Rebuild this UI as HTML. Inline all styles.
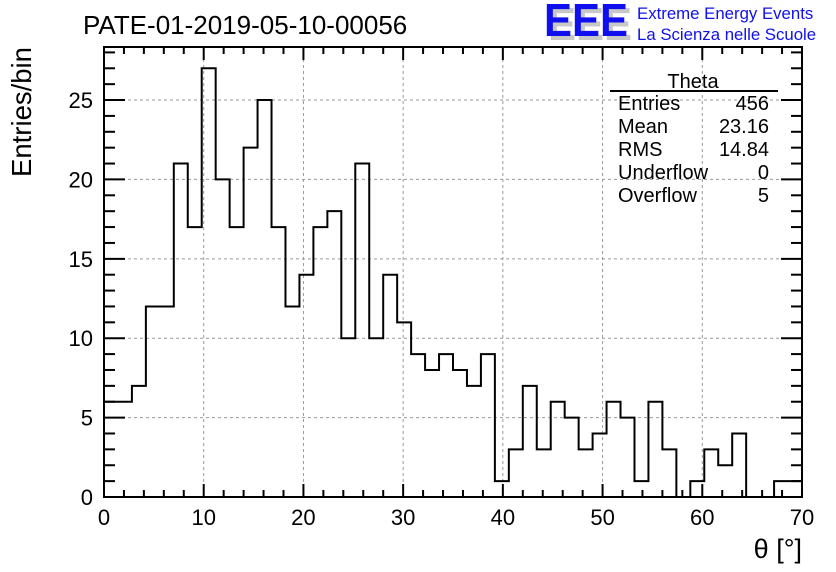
<!DOCTYPE html>
<html><head><meta charset="utf-8"><style>
html,body{margin:0;padding:0;background:#fff;}
svg{display:block;font-family:"Liberation Sans",sans-serif;}
</style></head><body>
<svg id="chart" width="836" height="572" viewBox="0 0 836 572">
<rect x="0" y="0" width="836" height="572" fill="#fff"/>
<text x="83" y="34" font-size="26" fill="#000">PATE-01-2019-05-10-00056</text>
<g>
<text x="548" y="40" font-size="46" font-weight="bold" fill="#c8c8c8" textLength="84" lengthAdjust="spacingAndGlyphs">EEE</text>
<text x="544" y="36" font-size="46" font-weight="bold" fill="#1010ee" textLength="84" lengthAdjust="spacingAndGlyphs">EEE</text>
<text x="637" y="19" font-size="16.8" fill="#1010ee">Extreme Energy Events</text>
<text x="637" y="40" font-size="16.8" fill="#1010ee">La Scienza nelle Scuole</text>
</g>
<g id="grid"></g>
<g id="ticks"></g>
<path id="hist" fill="none" stroke="#000" stroke-width="2"/>
<rect x="104" y="47" width="698" height="450" fill="none" stroke="#000" stroke-width="2"/>
<g id="xlabels" font-size="22" text-anchor="middle"></g>
<g id="ylabels" font-size="22" text-anchor="end"></g>
<text x="802" y="558" font-size="27" text-anchor="end">θ [°]</text>
<text transform="translate(31,112) rotate(-90)" font-size="27.5" text-anchor="middle">Entries/bin</text>
<g font-size="20">
<text x="693" y="88" text-anchor="middle">Theta</text>
<line x1="610" y1="91" x2="778" y2="91" stroke="#000" stroke-width="2"/>
<text x="618" y="110">Entries</text><text x="769" y="110" text-anchor="end">456</text>
<text x="618" y="133">Mean</text><text x="769" y="133" text-anchor="end">23.16</text>
<text x="618" y="156">RMS</text><text x="769" y="156" text-anchor="end">14.84</text>
<text x="618" y="179">Underflow</text><text x="769" y="179" text-anchor="end">0</text>
<text x="618" y="202">Overflow</text><text x="769" y="202" text-anchor="end">5</text>
</g>
</svg>
<script>
const binCounts = [6,6,7,12,12,21,17,27,20,17,22,25,17,12,14,17,18,10,21,10,14,11,9,8,9,8,7,9,1,3,7,3,6,5,3,4,6,5,1,6,3,0,1,3,2,4,0,0,1,1];
const xRange = [0,70];
const yRange = [0,28.34];
const xTickLabels = [0,10,20,30,40,50,60,70];
const yTickLabels = [0,5,10,15,20,25];

const L=104,R=802,T=47,B=497;
const NS='http://www.w3.org/2000/svg';
function sx(v){return L+(v-xRange[0])/(xRange[1]-xRange[0])*(R-L);}
function sy(v){return B-(v-yRange[0])/(yRange[1]-yRange[0])*(B-T);}
function mk(tag,attrs,parent){const e=document.createElementNS(NS,tag);for(const k in attrs)e.setAttribute(k,attrs[k]);parent.appendChild(e);return e;}

const grid=document.getElementById('grid'),ticks=document.getElementById('ticks');
const xl=document.getElementById('xlabels'),yl=document.getElementById('ylabels');
xTickLabels.forEach(v=>{
  const x=sx(v);
  if(v>xRange[0]&&v<xRange[1]){const g=mk('line',{x1:x,y1:T,x2:x,y2:B,stroke:'#999','stroke-width':1,'stroke-dasharray':'3,3'},grid);
  
  }
  const t=mk('text',{x:x,y:525},xl);t.textContent=v;
  
  
});
for(let v=xRange[0];v<=xRange[1];v+=2){
  const x=sx(v),len=(v%10===0)?13:7;
  mk('line',{x1:x,y1:B,x2:x,y2:B-len,stroke:'#000','stroke-width':2},ticks);
  mk('line',{x1:x,y1:T,x2:x,y2:T+len,stroke:'#000','stroke-width':2},ticks);
}
yTickLabels.forEach(v=>{
  const y=sy(v);
  if(v>yRange[0]){const g=mk('line',{x1:L,y1:y,x2:R,y2:y,stroke:'#999','stroke-width':1,'stroke-dasharray':'3,3'},grid);
  
  }
  const t=mk('text',{x:93,y:y+8},yl);t.textContent=v;
  
  
});
for(let v=0;v<=yRange[1];v+=1){
  const y=sy(v),len=(v%5===0)?21:11;
  mk('line',{x1:L,y1:y,x2:L+len,y2:y,stroke:'#000','stroke-width':2},ticks);
  mk('line',{x1:R,y1:y,x2:R-len,y2:y,stroke:'#000','stroke-width':2},ticks);
}
const bw=(xRange[1]-xRange[0])/binCounts.length;
let d='M'+sx(0)+','+sy(binCounts[0]);
binCounts.forEach((c,i)=>{
  d+=' L'+sx(i*bw)+','+sy(c)+' L'+sx((i+1)*bw)+','+sy(c);
});
document.getElementById('hist').setAttribute('d',d);
</script>
</body></html>
